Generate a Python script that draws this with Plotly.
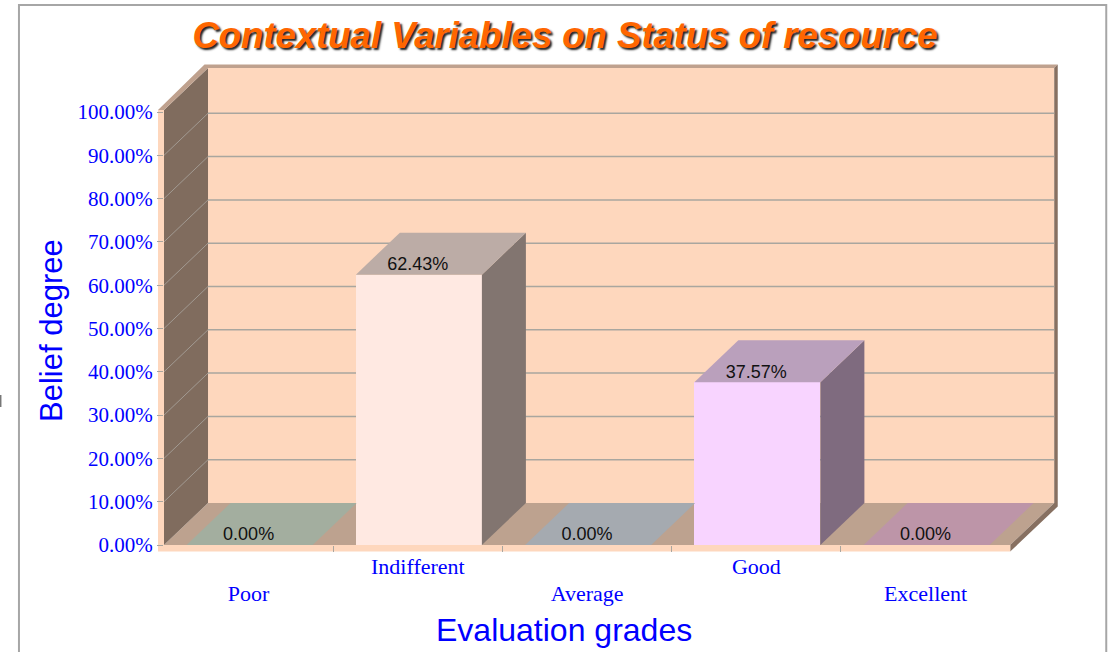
import plotly.graph_objects as go

# ---- data ----
categories = ["Poor", "Indifferent", "Average", "Good", "Excellent"]
belief = [0.00, 62.43, 0.00, 37.57, 0.00]
y_ticks = [0, 10, 20, 30, 40, 50, 60, 70, 80, 90, 100]

# ---- colours per category ----
front_colors = ["#d9e6d3", "#ffe9e2", "#dce3ea", "#f8d4ff", "#fccde0"]
top_colors = ["#a3ae9f", "#bcaca6", "#a5aab0", "#baa0bc", "#bd95a8"]
side_colors = ["#7d857a", "#827570", "#7f8388", "#7f6b7f", "#8f7080"]

PEACH = "#fed7bd"
SIDE_WALL = "#806c5e"
FLOOR = "#bda28f"
TOP_EDGE = "#bfa18e"
RIGHT_EDGE = "#877061"
GRID = "#a9a69f"
WALL_GRID = "#a29a92"
BLUE = "#0000ff"

# ---- geometry ----
W, H = 1117, 652
L, FRONT_R, T, B = 164, 1010, 112, 545  # front plane in pixels
N = len(categories)
PX_X = (FRONT_R - L) / N                # pixels per category
PX_Y = (B - T) / 100                    # pixels per percent
DX = 44 / PX_X                          # 3-D depth in x units
DY = 42 / PX_Y                          # 3-D depth in y units
XMAX = N + 0.3                          # plot extends right so bar depth is not clipped
R = L + XMAX * PX_X
WALL_TOP = 100.46
BAR_W = 126 / PX_X
BAR_SHIFT = 1 / PX_X
EDGE_X = 3.5 / PX_X
EDGE_Y = 3.5 / PX_Y
STRIP_X = 6 / PX_X
STRIP_Y = 6.5 / PX_Y


def px(x):
    return x / XMAX


def py(y):
    return y / 100


def poly(points):
    return "M " + " L ".join(f"{px(x):.5f},{py(y):.5f}" for x, y in points) + " Z"


def wall(points, color):
    return dict(type="path", path=poly(points), xref="paper", yref="paper",
                fillcolor=color, line=dict(width=0), layer="below")


def seg(x0, y0, x1, y1, color, width=1.5):
    return dict(type="line", xref="paper", yref="paper", x0=px(x0), y0=py(y0),
                x1=px(x1), y1=py(y1), line=dict(color=color, width=width), layer="below")


shapes = [
    # back wall
    wall([(DX, DY), (N + DX, DY), (N + DX, WALL_TOP + DY), (DX, WALL_TOP + DY)], PEACH),
    # floor
    wall([(0, 0), (N, 0), (N + DX, DY), (DX, DY)], FLOOR),
    # left wall
    wall([(0, 0), (DX, DY), (DX, WALL_TOP + DY), (0, WALL_TOP)], SIDE_WALL),
    # top edge of walls
    wall([(-STRIP_X, WALL_TOP), (0, WALL_TOP), (DX, WALL_TOP + DY), (N + DX, WALL_TOP + DY),
          (N + DX + EDGE_X, WALL_TOP + DY + EDGE_Y), (DX - EDGE_X, WALL_TOP + DY + EDGE_Y)], TOP_EDGE),
    # right edge of back wall / floor
    wall([(N + DX, WALL_TOP + DY), (N + DX + EDGE_X, WALL_TOP + DY + EDGE_Y),
          (N + DX + EDGE_X, DY - EDGE_Y), (N, -STRIP_Y), (N, 0), (N + DX, DY)], RIGHT_EDGE),
    # front strips
    wall([(-STRIP_X, -STRIP_Y), (N, -STRIP_Y), (N, 0), (-STRIP_X, 0)], PEACH),
    wall([(-STRIP_X, 0), (0, 0), (0, WALL_TOP), (-STRIP_X, WALL_TOP)], PEACH),
]
for v in y_ticks[1:-1]:
    shapes.append(seg(0, v, DX, v + DY, WALL_GRID, 1))
for v in y_ticks[1:-1]:
    shapes.append(seg(DX, v + DY, N + DX, v + DY, GRID))

# outer frame and the stray mark at the left edge of the screenshot
to_paper_x = lambda p: (p - L) / (R - L)
to_paper_y = lambda p: (B - p) / (B - T)
shapes.append(dict(type="rect", xref="paper", yref="paper",
                   x0=to_paper_x(19), x1=to_paper_x(1106),
                   y0=to_paper_y(660), y1=to_paper_y(5),
                   line=dict(color="#a6a6a6", width=2), fillcolor="rgba(0,0,0,0)", layer="below"))
shapes.append(dict(type="rect", xref="paper", yref="paper",
                   x0=to_paper_x(0), x1=to_paper_x(1.5),
                   y0=to_paper_y(407), y1=to_paper_y(395),
                   line=dict(width=0), fillcolor="#777777", layer="below"))

xc = [i + 0.5 for i in range(N)]
traces = []
# front faces
traces.append(go.Bar(x=[c + BAR_SHIFT for c in xc], y=belief, width=BAR_W,
                     marker=dict(color=front_colors, line=dict(width=0)),
                     showlegend=False, hoverinfo="skip"))
# top and side faces
for c, v, tc, sc in zip(xc, belief, top_colors, side_colors):
    a = c + BAR_SHIFT - BAR_W / 2
    b = c + BAR_SHIFT + BAR_W / 2
    traces.append(go.Scatter(x=[b, b + DX, b + DX, b, b], y=[0, DY, v + DY, v, 0],
                             mode="lines", fill="toself", fillcolor=sc, line=dict(width=0),
                             cliponaxis=False, showlegend=False, hoverinfo="skip",
                             visible=True if v > 0 else False))
    traces.append(go.Scatter(x=[a, b, b + DX, a + DX, a], y=[v, v, v + DY, v + DY, v],
                             mode="lines", fill="toself", fillcolor=tc, line=dict(width=0),
                             cliponaxis=False, showlegend=False, hoverinfo="skip"))
# value labels (also carries the upper row of the category axis)
traces.append(go.Scatter(x=xc, y=[v + 2.1 for v in belief], xaxis="x2", yaxis="y",
                         mode="text", text=[f"{v:.2f}%" for v in belief],
                         textfont=dict(family="Liberation Sans", size=18, color="#111111"),
                         textposition="middle center", cliponaxis=False,
                         showlegend=False, hoverinfo="skip"))

y_font = dict(family="Liberation Serif", size=21, color=BLUE)
x_font = dict(family="Liberation Serif", size=22, color=BLUE)
fig = go.Figure(traces)
fig.update_layout(
    width=W, height=H, autosize=False,
    margin=dict(l=L, r=W - R, t=T, b=H - B, pad=0),
    paper_bgcolor="white", plot_bgcolor="rgba(0,0,0,0)",
    shapes=shapes, showlegend=False, bargap=0,
    title=dict(text="<b><i>Contextual Variables on Status of resource</i></b>",
               x=565 / W, y=1 - 35 / H, xref="container",
               xanchor="center", yanchor="middle",
               font=dict(family="Liberation Sans", size=36.5, color="#ff6600",
                         shadow="2px 2px 2px #222222")),
    xaxis=dict(range=[0, XMAX], tickmode="array",
               tickvals=xc[0::2], ticktext=categories[0::2],
               ticks="outside", ticklen=0, tickcolor="rgba(0,0,0,0)",
               ticklabelstandoff=29, tickfont=x_font, showgrid=False,
               zeroline=False, showline=False,
               minor=dict(tickmode="array", tickvals=list(range(1, N)), ticks="outside",
                          ticklen=6, tickwidth=1, tickcolor=GRID)),
    xaxis2=dict(range=[0, XMAX], overlaying="x", side="bottom", anchor="y", tickmode="array",
                tickvals=xc[1::2], ticktext=categories[1::2],
                ticks="", ticklabelstandoff=6, tickfont=x_font,
                showgrid=False, zeroline=False, showline=False),
    yaxis=dict(range=[0, 100], tickmode="array", tickvals=y_ticks,
               ticktext=[f"{v:.2f}%" for v in y_ticks],
               ticks="outside", ticklen=6, tickwidth=1, tickcolor=GRID,
               tickfont=y_font, showgrid=False, zeroline=False, showline=False),
    annotations=[
        dict(text="Belief degree", xref="paper", yref="paper",
             x=to_paper_x(51), y=to_paper_y(330), textangle=-90, showarrow=False,
             xanchor="center", yanchor="middle",
             font=dict(family="Liberation Sans", size=31, color=BLUE)),
        dict(text="Evaluation grades", xref="paper", yref="paper",
             x=to_paper_x(564), y=to_paper_y(630), showarrow=False,
             xanchor="center", yanchor="middle",
             font=dict(family="Liberation Sans", size=32, color=BLUE)),
    ],
)

fig.write_html("out.html", post_script="document.body.style.margin='0';",
               config=dict(displayModeBar=False))
